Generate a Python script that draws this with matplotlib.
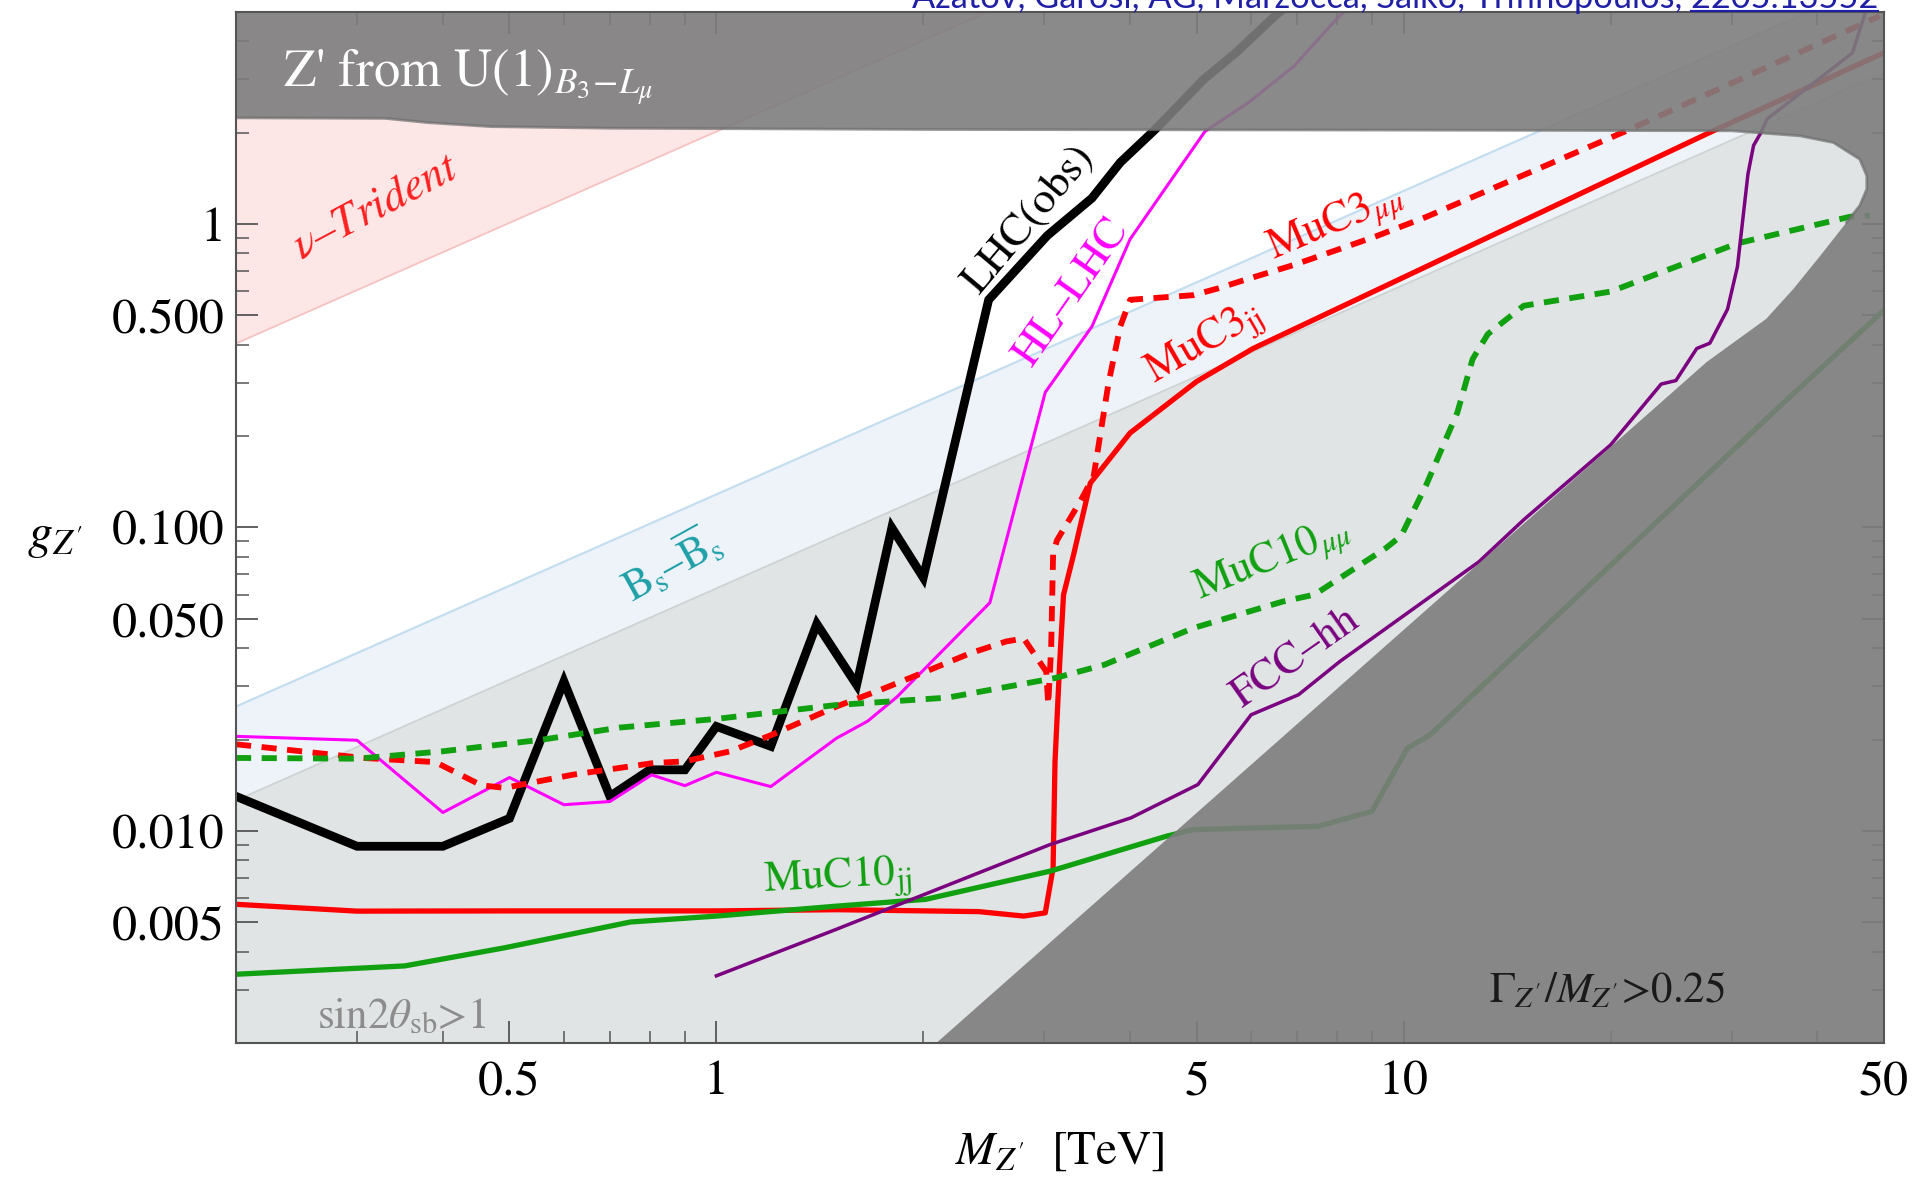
import numpy as np
import matplotlib.pyplot as plt
from matplotlib.lines import Line2D
from matplotlib.ticker import FixedLocator, FixedFormatter, NullFormatter

plt.rcParams['font.family'] = ['STIXGeneral', 'DejaVu Serif']
plt.rcParams['mathtext.fontset'] = 'stix'

# ---- curves (M in TeV, g_Z') ----
lhc_M = [0.2, 0.30, 0.40, 0.50, 0.60, 0.70, 0.80, 0.90, 1.0, 1.2, 1.4, 1.6, 1.8, 2.0,
         2.49, 3.03, 3.52, 3.87, 4.35, 5.12, 5.70, 6.49, 6.6]
lhc_g = [0.0130, 0.0089, 0.0089, 0.0110, 0.0311, 0.0130, 0.0159, 0.0159, 0.0221, 0.0190,
         0.0481, 0.0303, 0.0998, 0.0684, 0.563, 0.916, 1.218, 1.596, 2.05, 3.0, 3.67, 4.84, 5.0]

hllhc_M = [0.2, 0.30, 0.40, 0.50, 0.60, 0.70, 0.805, 0.90, 1.0, 1.2, 1.495, 1.66, 1.83,
           2.50, 3.01, 3.52, 4.0, 4.78, 5.14, 5.94, 6.93, 8.06, 8.2]
hllhc_g = [0.0205, 0.0199, 0.0115, 0.0150, 0.0122, 0.0125, 0.0153, 0.0141, 0.0156, 0.0140,
           0.0202, 0.0230, 0.0276, 0.0565, 0.279, 0.46, 0.892, 1.596, 2.02, 2.51, 3.32, 4.85, 5.0]

muc3mm_M = [0.2, 0.306, 0.39, 0.455, 0.492, 0.619, 0.81, 0.898, 1.047, 1.205, 1.495, 1.735,
            2.016, 2.34, 2.64, 2.80, 3.02, 3.04, 3.07, 3.09, 3.13, 3.27, 3.385, 3.54, 3.72,
            3.87, 4.0, 4.94, 5.36, 5.94, 6.93, 9.1, 10.8, 21.0, 49.3]
muc3mm_g = [0.0193, 0.0174, 0.01686, 0.01414, 0.01386, 0.01533, 0.01674, 0.01695, 0.01829,
            0.02075, 0.0257, 0.0292, 0.0335, 0.0385, 0.0421, 0.0431, 0.0335, 0.0261, 0.04,
            0.0814, 0.0907, 0.107, 0.122, 0.1476, 0.2985, 0.46, 0.563, 0.583, 0.613, 0.66,
            0.734, 0.91, 1.057, 2.02, 4.85]

muc3jj_M = [0.2, 0.30, 0.5, 1.0, 1.5, 2.41, 2.80, 3.01, 3.09, 3.11, 3.16, 3.20, 3.31, 3.50,
            4.0, 5.0, 6.04, 28.1, 50.0]
muc3jj_g = [0.00573, 0.00544, 0.00545, 0.00545, 0.0055, 0.00542, 0.00524, 0.00537, 0.00755,
            0.01695, 0.0362, 0.060, 0.0814, 0.14, 0.205, 0.303, 0.389, 2.02, 3.67]

muc10mm_M = [0.2, 0.30, 0.40, 0.559, 0.722, 1.0, 1.495, 2.17, 3.11, 3.67, 4.94, 6.67, 7.42,
             9.42, 9.92, 10.8, 11.97, 12.6, 13.26, 14.95, 20.0, 30.6, 44.6, 47.7]
muc10mm_g = [0.0174, 0.0173, 0.0183, 0.0200, 0.0219, 0.0234, 0.0260, 0.0275, 0.0319, 0.0353,
             0.0466, 0.057, 0.0601, 0.0855, 0.0939, 0.139, 0.239, 0.359, 0.434, 0.538, 0.599,
             0.864, 1.057, 1.066]

muc10jj_M = [0.2, 0.352, 0.492, 0.75, 1.0, 1.495, 2.016, 3.06, 4.52, 4.94, 7.51, 8.99, 10.13,
             10.92, 35.8, 50.0]
muc10jj_g = [0.00337, 0.00359, 0.00412, 0.00501, 0.00524, 0.00565, 0.00595, 0.00737, 0.00961,
             0.0101, 0.01036, 0.0116, 0.01875, 0.0207, 0.259, 0.52]

fcc_M = [1.0, 1.495, 3.06, 4.01, 5.02, 6.0, 7.03, 8.08, 12.87, 14.95, 20.0, 23.7, 24.9, 26.7,
         27.9, 29.6, 30.6, 31.7, 32.3, 33.1, 33.8, 45.0, 47.0]
fcc_g = [0.00333, 0.00474, 0.00902, 0.01104, 0.01422, 0.02415, 0.0281, 0.0362, 0.0771, 0.106,
         0.187, 0.297, 0.305, 0.389, 0.405, 0.524, 0.724, 1.464, 1.816, 2.0, 2.22, 3.67, 5.0]

# ---- shaded regions ----
trident_M = [0.2, 2.48, 0.2]
trident_g = [0.404, 5.0, 5.0]
bs_M = [0.2, 50.0]
bs_g = [0.0257, 6.43]
sin_M = [0.2, 50.0]
sin_g = [0.0126, 3.15]
dark_M = [0.2, 0.2, 0.33, 0.38, 0.47, 0.7, 2.0, 10.0, 30.0, 37.7, 42.2, 46.1, 47.2, 47.2, 46.1,
          44.1, 40.4, 36.9, 33.7, 27.6, 2.09, 50.0, 50.0]
dark_g = [5.0, 2.24, 2.23, 2.16, 2.095, 2.07, 2.05, 2.04, 2.03, 1.954, 1.857, 1.636, 1.442,
          1.303, 1.15, 1.013, 0.787, 0.611, 0.487, 0.351, 0.002, 0.002, 5.0]

# ---- ticks ----
xmaj = [0.5, 1, 5, 10, 50]
xmaj_lab = ['0.5', '1', '5', '10', '50']
ymaj = [0.005, 0.01, 0.05, 0.1, 0.5, 1]
ymaj_lab = ['0.005', '0.010', '0.050', '0.100', '0.500', '1']

fig = plt.figure(figsize=(19.12, 11.81), dpi=100)
ax = fig.add_axes([0.12343, 0.11685, 0.86192, 0.87299])
ax.set_xscale('log')
ax.set_yscale('log')
ax.set_xlim(0.2, 50)
ax.set_ylim(0.002, 5)

# regions
ax.fill(trident_M, trident_g, color='#fde6e6', lw=0, zorder=1)
ax.plot(trident_M[:2], trident_g[:2], color='#f6c2c2', lw=1.3, zorder=1.1)
ax.fill_between(bs_M, 0.002, bs_g, color='#eef3fa', lw=0, zorder=1)
ax.plot(bs_M, bs_g, color='#c4def0', lw=1.6, zorder=1.1)
ax.fill_between(sin_M, 0.002, sin_g, color='#e0e4e4', lw=0, zorder=1.2)
ax.plot(sin_M, sin_g, color='#cdd2d2', lw=1.3, zorder=1.3)

# curves
ax.plot(lhc_M, lhc_g, color='black', lw=6.3, solid_joinstyle='miter', zorder=3)
ax.plot(hllhc_M, hllhc_g, color='#ff00ff', lw=2.2, zorder=3)
ax.plot(muc3jj_M, muc3jj_g, color='#ff0000', lw=3.8, zorder=3)
ax.plot(muc3mm_M, muc3mm_g, color='#ff0000', lw=4.2, dashes=(2.6, 1.8), zorder=3)
ax.plot(muc10jj_M, muc10jj_g, color='#10a010', lw=3.8, zorder=3)
ax.plot(muc10mm_M, muc10mm_g, color='#10a010', lw=4.2, dashes=(2.6, 1.8), zorder=3)
ax.plot(fcc_M, fcc_g, color='#7a0080', lw=2.5, zorder=3)

# dark overlay (top band + large width region)
ax.fill(dark_M, dark_g, color='#7d7d7d', alpha=0.9, lw=0, zorder=4)
ax.plot(dark_M[1:16], dark_g[1:16], color='#6e6e6e', lw=2.0, alpha=0.7, zorder=4.1)

# labels on the plot
ax.text(0.234, 2.84, r"Z' from U(1)$_{B_3\!-\!L_\mu}$", color='white', fontsize=38,
        ha='left', va='baseline', zorder=6)
ax.text(0.32, 1.14, r"$\nu$–Trident", color='#ff2020', fontsize=33, style='italic',
        rotation=28, ha='center', va='center', zorder=6)
ax.text(2.85, 1.04, "LHC(obs)", color='black', fontsize=32, rotation=50,
        ha='center', va='center', zorder=6)
ax.text(3.29, 0.594, "HL–LHC", color='#ff00ff', fontsize=32, rotation=55,
        ha='center', va='center', zorder=6)
ax.text(7.97, 1.01, r"MuC3$_{\mu\mu}$", color='#ff0000', fontsize=31, rotation=23,
        ha='center', va='center', zorder=6)
ax.text(5.15, 0.40, r"MuC3$_{\rm jj}$", color='#ff0000', fontsize=31, rotation=30,
        ha='center', va='center', zorder=6)
ax.text(0.86, 0.0761, r"B$_{\rm s}$–$\overline{\rm B}_{\rm s}$", color='#1ea0a8', fontsize=31,
        rotation=29, ha='center', va='center', zorder=6)
ax.text(6.45, 0.078, r"MuC10$_{\mu\mu}$", color='#10a010', fontsize=31, rotation=22,
        ha='center', va='center', zorder=6)
ax.text(6.97, 0.037, "FCC–hh", color='#7a0080', fontsize=31, rotation=35,
        ha='center', va='center', zorder=6)
ax.text(1.5, 0.0069, r"MuC10$_{\rm jj}$", color='#10a010', fontsize=31, rotation=3,
        ha='center', va='center', zorder=6)
ax.text(0.348, 0.00243, r"sin2$\theta_{\rm sb}$>1", color='#8c8c8c', fontsize=31,
        ha='center', va='center', zorder=6)
ax.text(19.8, 0.00297, r"$\Gamma_{Z'}/M_{Z'}$>0.25", color='#1a1a1a', fontsize=31,
        ha='center', va='center', zorder=6)

# axes styling
for sp in ax.spines.values():
    sp.set_color('#555555')
    sp.set_linewidth(1.5)
    sp.set_zorder(7)
ax.xaxis.set_major_locator(FixedLocator(xmaj))
ax.xaxis.set_major_formatter(FixedFormatter(xmaj_lab))
xmin = [m * d for d in (0.1, 1, 10) for m in range(2, 10)]
ax.xaxis.set_minor_locator(FixedLocator([v for v in xmin if v not in xmaj]))
ax.xaxis.set_minor_formatter(NullFormatter())
ax.yaxis.set_major_locator(FixedLocator(ymaj))
ax.yaxis.set_major_formatter(FixedFormatter(ymaj_lab))
ymin = [m * d for d in (0.001, 0.01, 0.1, 1) for m in range(1, 10)]
ax.yaxis.set_minor_locator(FixedLocator([v for v in ymin
                                         if all(abs(v - t) > 1e-9 for t in ymaj)]))
ax.yaxis.set_minor_formatter(NullFormatter())
ax.tick_params(which='both', direction='in', top=True, right=True, color='#555555')
ax.tick_params(which='major', length=16, width=1.3, labelsize=36, pad=8)
ax.tick_params(axis='x', which='major', pad=12)
ax.tick_params(which='minor', length=9, width=1.1)

ax.set_xlabel(r"$M_{Z'}$  [TeV]", fontsize=34)
ax.xaxis.set_label_coords(0.5, -0.106)
ax.xaxis.label.set_va('center')
ax.set_ylabel(r"$g_{Z'}$", fontsize=36, rotation=0)
ax.yaxis.set_label_coords(-0.11, 0.49)
ax.yaxis.label.set_va('center')
ax.yaxis.label.set_ha('center')

# reference link at top (partly cut off, as in the original)
link_txt = "Azatov, Garosi, AG, Marzocca, Salko, Trifinopoulos, "
num_txt = "2205.13552"
fs = 22
fig.canvas.draw()
r = fig.canvas.get_renderer()
probe = fig.text(0, 0, link_txt + num_txt, fontsize=fs, family=['Lato', 'DejaVu Sans'])
w = probe.get_window_extent(r).width
fs = fs * 963.0 / w
probe.remove()
x_right = 1878 / 1912
y_base = 1 - 8 / 1181
fig.text(x_right, y_base, link_txt + num_txt, fontsize=fs, color='#2020a6',
         family=['Lato', 'DejaVu Sans'], ha='right', va='baseline')
probe = fig.text(0, 0, num_txt, fontsize=fs, family=['Lato', 'DejaVu Sans'])
wn = probe.get_window_extent(r).width
probe.remove()
uy = 1 - 11 / 1181
fig.add_artist(Line2D([x_right - wn / 1912, x_right], [uy, uy], color='#2020a6', lw=1.5,
                      transform=fig.transFigure))

fig.savefig('out.png', dpi=100)
